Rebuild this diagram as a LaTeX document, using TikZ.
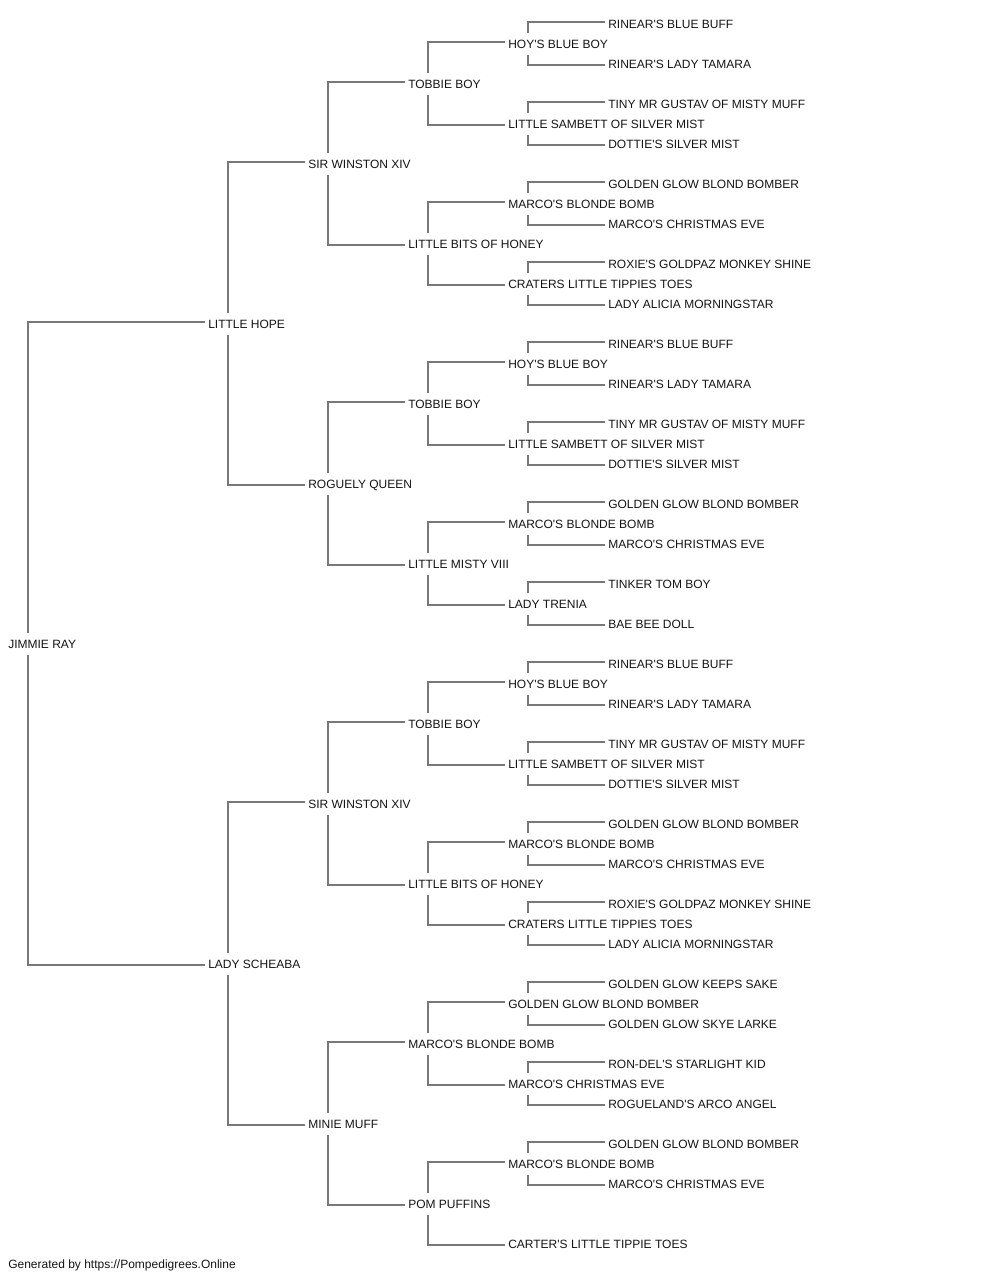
\documentclass[tikz,border=0pt]{standalone}
\usepackage{fontspec}
\setmainfont{Liberation Sans}
\newcommand\apo{\textquotesingle}
\definecolor{lncol}{RGB}{120,120,120}
\definecolor{txcol}{RGB}{20,20,20}
\begin{document}
\begin{tikzpicture}[x=0.75pt,y=-0.75pt,
  pn/.style={anchor=west,inner sep=0pt,minimum height=16.5pt,text height=6.4pt,text depth=0pt,
    font=\fontsize{9}{11}\selectfont,text=txcol},
  ln/.style={draw=lncol,line width=0.9pt}]
\useasboundingbox (0,0) rectangle (1000,1280);
% generation 0
\node[pn] (a0) at (8,644) {JIMMIE RAY};
% generation 1
\node[pn] (b0) at (208,324) {LITTLE HOPE};
\node[pn] (b1) at (208,964) {LADY SCHEABA};
% generation 2
\node[pn] (c0) at (308,164) {SIR WINSTON XIV};
\node[pn] (c1) at (308,484) {ROGUELY QUEEN};
\node[pn] (c2) at (308,804) {SIR WINSTON XIV};
\node[pn] (c3) at (308,1124) {MINIE MUFF};
% generation 3
\node[pn] (d0) at (408,84) {TOBBIE BOY};
\node[pn] (d1) at (408,244) {LITTLE BITS OF HONEY};
\node[pn] (d2) at (408,404) {TOBBIE BOY};
\node[pn] (d3) at (408,564) {LITTLE MISTY VIII};
\node[pn] (d4) at (408,724) {TOBBIE BOY};
\node[pn] (d5) at (408,884) {LITTLE BITS OF HONEY};
\node[pn] (d6) at (408,1044) {MARCO\apo S BLONDE BOMB};
\node[pn] (d7) at (408,1204) {POM PUFFINS};
% generation 4
\node[pn] (e0) at (508,44) {HOY\apo S BLUE BOY};
\node[pn] (e1) at (508,124) {LITTLE SAMBETT OF SILVER MIST};
\node[pn] (e2) at (508,204) {MARCO\apo S BLONDE BOMB};
\node[pn] (e3) at (508,284) {CRATERS LITTLE TIPPIES TOES};
\node[pn] (e4) at (508,364) {HOY\apo S BLUE BOY};
\node[pn] (e5) at (508,444) {LITTLE SAMBETT OF SILVER MIST};
\node[pn] (e6) at (508,524) {MARCO\apo S BLONDE BOMB};
\node[pn] (e7) at (508,604) {LADY TRENIA};
\node[pn] (e8) at (508,684) {HOY\apo S BLUE BOY};
\node[pn] (e9) at (508,764) {LITTLE SAMBETT OF SILVER MIST};
\node[pn] (e10) at (508,844) {MARCO\apo S BLONDE BOMB};
\node[pn] (e11) at (508,924) {CRATERS LITTLE TIPPIES TOES};
\node[pn] (e12) at (508,1004) {GOLDEN GLOW BLOND BOMBER};
\node[pn] (e13) at (508,1084) {MARCO\apo S CHRISTMAS EVE};
\node[pn] (e14) at (508,1164) {MARCO\apo S BLONDE BOMB};
\node[pn] (e15) at (508,1244) {CARTER\apo S LITTLE TIPPIE TOES};
% generation 5
\node[pn] (f0) at (608,24) {RINEAR\apo S BLUE BUFF};
\node[pn] (f1) at (608,64) {RINEAR\apo S LADY TAMARA};
\node[pn] (f2) at (608,104) {TINY MR GUSTAV OF MISTY MUFF};
\node[pn] (f3) at (608,144) {DOTTIE\apo S SILVER MIST};
\node[pn] (f4) at (608,184) {GOLDEN GLOW BLOND BOMBER};
\node[pn] (f5) at (608,224) {MARCO\apo S CHRISTMAS EVE};
\node[pn] (f6) at (608,264) {ROXIE\apo S GOLDPAZ MONKEY SHINE};
\node[pn] (f7) at (608,304) {LADY ALICIA MORNINGSTAR};
\node[pn] (f8) at (608,344) {RINEAR\apo S BLUE BUFF};
\node[pn] (f9) at (608,384) {RINEAR\apo S LADY TAMARA};
\node[pn] (f10) at (608,424) {TINY MR GUSTAV OF MISTY MUFF};
\node[pn] (f11) at (608,464) {DOTTIE\apo S SILVER MIST};
\node[pn] (f12) at (608,504) {GOLDEN GLOW BLOND BOMBER};
\node[pn] (f13) at (608,544) {MARCO\apo S CHRISTMAS EVE};
\node[pn] (f14) at (608,584) {TINKER TOM BOY};
\node[pn] (f15) at (608,624) {BAE BEE DOLL};
\node[pn] (f16) at (608,664) {RINEAR\apo S BLUE BUFF};
\node[pn] (f17) at (608,704) {RINEAR\apo S LADY TAMARA};
\node[pn] (f18) at (608,744) {TINY MR GUSTAV OF MISTY MUFF};
\node[pn] (f19) at (608,784) {DOTTIE\apo S SILVER MIST};
\node[pn] (f20) at (608,824) {GOLDEN GLOW BLOND BOMBER};
\node[pn] (f21) at (608,864) {MARCO\apo S CHRISTMAS EVE};
\node[pn] (f22) at (608,904) {ROXIE\apo S GOLDPAZ MONKEY SHINE};
\node[pn] (f23) at (608,944) {LADY ALICIA MORNINGSTAR};
\node[pn] (f24) at (608,984) {GOLDEN GLOW KEEPS SAKE};
\node[pn] (f25) at (608,1024) {GOLDEN GLOW SKYE LARKE};
\node[pn] (f26) at (608,1064) {RON-DEL\apo S STARLIGHT KID};
\node[pn] (f27) at (608,1104) {ROGUELAND\apo S ARCO ANGEL};
\node[pn] (f28) at (608,1144) {GOLDEN GLOW BLOND BOMBER};
\node[pn] (f29) at (608,1184) {MARCO\apo S CHRISTMAS EVE};
% footer
\node[pn] (foot) at (8,1264) {Generated by https://Pompedigrees.Online};
% connectors
\foreach \p/\a/\b in {a0/b0/b1, b0/c0/c1, b1/c2/c3,
  c0/d0/d1, c1/d2/d3, c2/d4/d5, c3/d6/d7,
  d0/e0/e1, d1/e2/e3, d2/e4/e5, d3/e6/e7, d4/e8/e9, d5/e10/e11, d6/e12/e13, d7/e14/e15,
  e0/f0/f1, e1/f2/f3, e2/f4/f5, e3/f6/f7, e4/f8/f9, e5/f10/f11, e6/f12/f13, e7/f14/f15,
  e8/f16/f17, e9/f18/f19, e10/f20/f21, e11/f22/f23, e12/f24/f25, e13/f26/f27, e14/f28/f29}{
  \draw[ln] ([shift={(-3,-2)}]\a.west) -| ([shift={(20,0)}]\p.north west);
  \draw[ln] ([shift={(-3,1)}]\b.west) -| ([shift={(20,0)}]\p.south west);
}
\end{tikzpicture}
\end{document}
